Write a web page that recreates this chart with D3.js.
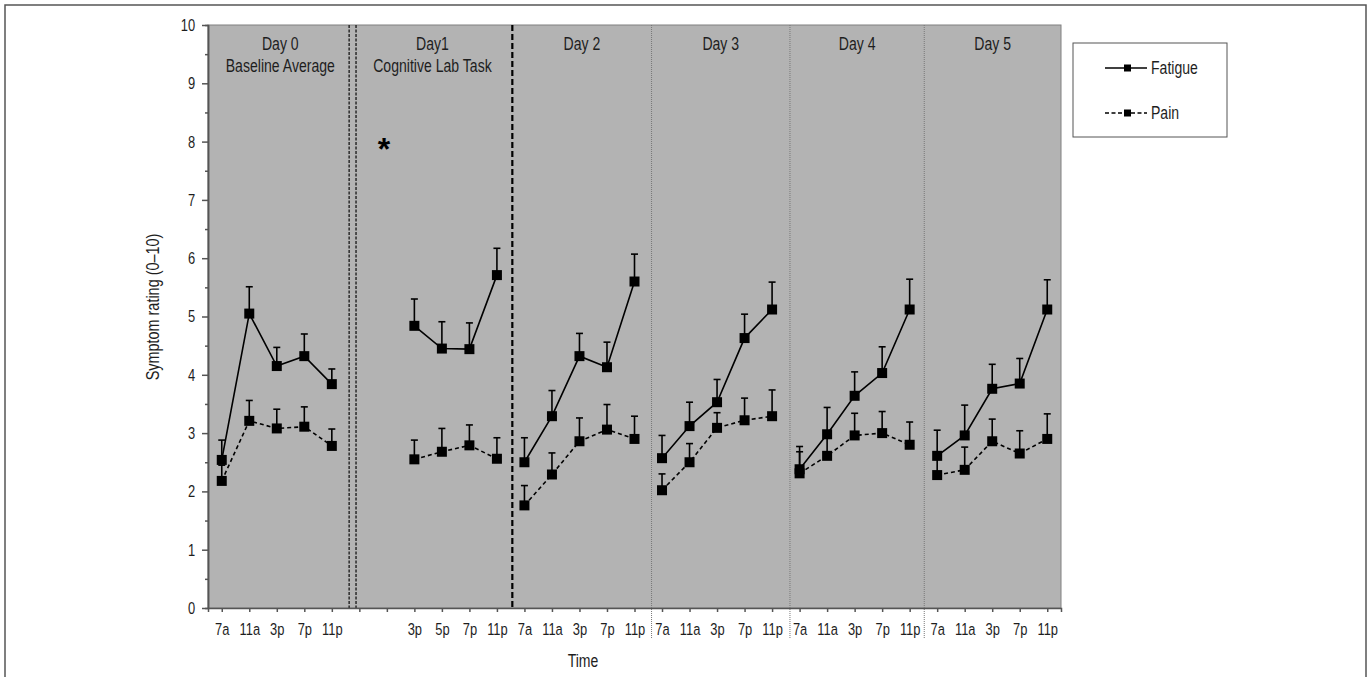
<!DOCTYPE html>
<html>
<head>
<meta charset="utf-8">
<script src="https://cdn.jsdelivr.net/npm/d3@7"></script>
<style>
  body { margin: 0; background: #fff; }
  svg text { font-family: "Liberation Sans", Arial, sans-serif; fill: #1e1e1e; }
</style>
</head>
<body>
<svg id="chart" width="1372" height="677"></svg>
<script>
// time-of-day labels, one per category slot (two empty slots on day 1)
var timeLabels = ["7a","11a","3p","7p","11p",
                  "","","3p","5p","7p","11p",
                  "7a","11a","3p","7p","11p",
                  "7a","11a","3p","7p","11p",
                  "7a","11a","3p","7p","11p",
                  "7a","11a","3p","7p","11p"];
var dayStarts = [0, 5, 11, 16, 21, 26];
var dayTitles = ["Day 0", "Day1", "Day 2", "Day 3", "Day 4", "Day 5"];
var daySubtitles = ["Baseline Average", "Cognitive Lab Task", "", "", "", ""];

var fatigue = [2.54, 5.05, 4.15, 4.32, 3.84,
               null, null, 4.84, 4.45, 4.44, 5.71,
               2.50, 3.29, 4.32, 4.13, 5.60,
               2.57, 3.12, 3.53, 4.63, 5.12,
               2.38, 2.98, 3.64, 4.03, 5.12,
               2.61, 2.96, 3.76, 3.85, 5.12];
var fatigueSE = [0.34, 0.46, 0.32, 0.38, 0.26,
                 null, null, 0.46, 0.46, 0.45, 0.46,
                 0.42, 0.44, 0.39, 0.43, 0.47,
                 0.39, 0.41, 0.39, 0.41, 0.47,
                 0.39, 0.46, 0.41, 0.45, 0.52,
                 0.44, 0.52, 0.42, 0.43, 0.51];
var pain = [2.18, 3.21, 3.08, 3.11, 2.78,
            null, null, 2.55, 2.68, 2.79, 2.56,
            1.76, 2.29, 2.86, 3.06, 2.90,
            2.02, 2.50, 3.09, 3.22, 3.29,
            2.31, 2.61, 2.96, 3.00, 2.80,
            2.28, 2.37, 2.86, 2.65, 2.90];
var painSE = [0.27, 0.35, 0.33, 0.34, 0.29,
              null, null, 0.33, 0.40, 0.35, 0.36,
              0.34, 0.37, 0.40, 0.43, 0.39,
              0.28, 0.32, 0.26, 0.38, 0.45,
              0.37, 0.34, 0.38, 0.37, 0.39,
              0.27, 0.39, 0.38, 0.39, 0.43];

// day separators, in category-index units (double, bold dashed, then thin dotted)
var separators = [4.63, 4.88, 10.56, 15.62, 20.65, 25.53];
var sepKinds = ["double", "double", "bold", "thin", "thin", "thin"];

// significance marker
var starIndex = 6, starValue = 8;

var svg = d3.select("#chart");
var margin = {top: 25, left: 208, right: 311, bottom: 69};
var width = 1372, height = 677;
var squeeze = "scale(0.76,1)"; // condensed look like the original typeface

function label(x, y, txt, size, anchor, rot) {
  return svg.append("text")
    .attr("transform", "translate(" + x + "," + y + ")" + (rot ? " rotate(" + rot + ")" : "") + " " + squeeze)
    .attr("text-anchor", anchor || "middle")
    .style("font-size", size + "px").text(txt);
}

// outer frame
svg.append("rect").attr("x", 5).attr("y", 5).attr("width", 1361).attr("height", 700)
  .attr("fill", "none").attr("stroke", "#555").attr("stroke-width", 1.5);

var idx = d3.range(timeLabels.length);
var x = d3.scalePoint().domain(idx).range([margin.left, width - margin.right]).padding(0.5);
var xi = d3.scaleLinear().domain([0, idx.length - 1]).range([x(0), x(idx.length - 1)]);
var y = d3.scaleLinear().domain([0, 10]).range([height - margin.bottom, margin.top]);

// plot background
svg.append("rect")
  .attr("x", margin.left).attr("y", y(10))
  .attr("width", width - margin.right - margin.left).attr("height", y(0) - y(10))
  .attr("fill", "#b3b3b3").attr("stroke", "#808080").attr("stroke-width", 1);

// day separators
separators.forEach(function(s, i) {
  var line = svg.append("line")
    .attr("x1", xi(s)).attr("x2", xi(s)).attr("y1", y(10)).attr("y2", y(0) + 2);
  if (sepKinds[i] === "double") {
    line.attr("stroke", "#333").attr("stroke-width", 1.6).attr("stroke-dasharray", "3,1.5");
  } else if (sepKinds[i] === "bold") {
    line.attr("stroke", "#000").attr("stroke-width", 2.2).attr("stroke-dasharray", "6,3");
  } else {
    line.attr("stroke", "#777").attr("stroke-width", 1).attr("stroke-dasharray", "1,1").attr("y2", y(0) + 30);
  }
});

// day headers
var bounds = [margin.left, xi(4.755), xi(10.56), xi(15.62), xi(20.65), xi(25.53), width - margin.right];
dayTitles.forEach(function(t, i) {
  var cx = (bounds[i] + bounds[i + 1]) / 2;
  label(cx, 50, t, 18.5);
  if (daySubtitles[i]) label(cx, 72, daySubtitles[i], 18.5);
});

// axes
var yMinor = svg.append("g").attr("transform", "translate(" + margin.left + ",0)")
  .call(d3.axisLeft(y).tickValues(d3.range(0.5, 10, 1)).tickSize(3).tickFormat(""));
var yAxis = svg.append("g").attr("transform", "translate(" + margin.left + ",0)")
  .call(d3.axisLeft(y).tickValues(d3.range(0, 11, 1)).tickSize(6).tickSizeOuter(0).tickPadding(11));
yAxis.selectAll("text").style("font-size", "17px").attr("transform", squeeze);
var xAxis = svg.append("g").attr("transform", "translate(0," + y(0) + ")")
  .call(d3.axisBottom(x).tickSize(4).tickSizeOuter(4).tickPadding(11)
    .tickFormat(function(i) { return timeLabels[i]; }));
xAxis.selectAll("text").style("font-size", "17px").attr("transform", squeeze);
[yMinor, yAxis, xAxis].forEach(function(g) {
  g.selectAll("path, line").attr("stroke", "#555").attr("stroke-width", 1.5);
});
svg.selectAll(".tick text").style("font-family", "Liberation Sans, Arial, sans-serif").attr("fill", "#1e1e1e");

label(159, 307, "Symptom rating (0\u201310)", 19, "middle", -90);
label(583, 667, "Time", 18.5);

// series
function dayOf(i) { return d3.bisectRight(dayStarts, i) - 1; }

function drawSeries(values, se, dash) {
  var pts = idx.filter(function(i) { return values[i] != null; })
    .map(function(i) { return {i: i, v: values[i], e: se[i], day: dayOf(i)}; });
  var line = d3.line().x(function(d) { return x(d.i); }).y(function(d) { return y(d.v); });
  d3.groups(pts, function(d) { return d.day; }).forEach(function(g) {
    svg.append("path").attr("d", line(g[1])).attr("fill", "none")
      .attr("stroke", "#000").attr("stroke-width", 1.6).attr("stroke-dasharray", dash);
  });
  var eb = svg.append("g").attr("stroke", "#000").attr("stroke-width", 1.6);
  pts.forEach(function(d) {
    eb.append("line").attr("x1", x(d.i)).attr("x2", x(d.i)).attr("y1", y(d.v)).attr("y2", y(d.v + d.e));
    eb.append("line").attr("x1", x(d.i) - 3.5).attr("x2", x(d.i) + 3.5)
      .attr("y1", y(d.v + d.e)).attr("y2", y(d.v + d.e));
  });
  return pts;
}
var fPts = drawSeries(fatigue, fatigueSE, null);
var pPts = drawSeries(pain, painSE, "4,3");
fPts.concat(pPts).forEach(function(d) {
  svg.append("rect").attr("x", x(d.i) - 5).attr("y", y(d.v) - 5)
    .attr("width", 10).attr("height", 10).attr("fill", "#000");
});

svg.append("text").attr("x", xi(starIndex) - 3).attr("y", y(starValue) + 18)
  .attr("text-anchor", "middle")
  .style("font-weight", "bold").style("font-size", "32px").style("fill", "#000").text("*");

// legend
var lg = svg.append("g");
lg.append("rect").attr("x", 1073).attr("y", 43).attr("width", 154).attr("height", 94)
  .attr("fill", "#fff").attr("stroke", "#555").attr("stroke-width", 1);
var legendItems = [{name: "Fatigue", dash: null, y: 68}, {name: "Pain", dash: "4,2.5", y: 113}];
legendItems.forEach(function(it) {
  lg.append("line").attr("x1", 1105).attr("x2", 1147).attr("y1", it.y).attr("y2", it.y)
    .attr("stroke", "#000").attr("stroke-width", 1.5).attr("stroke-dasharray", it.dash);
  lg.append("rect").attr("x", 1124).attr("y", it.y - 3.5).attr("width", 7).attr("height", 7).attr("fill", "#000");
  label(1151, it.y + 6, it.name, 18.5, "start");
});
</script>
</body>
</html>
